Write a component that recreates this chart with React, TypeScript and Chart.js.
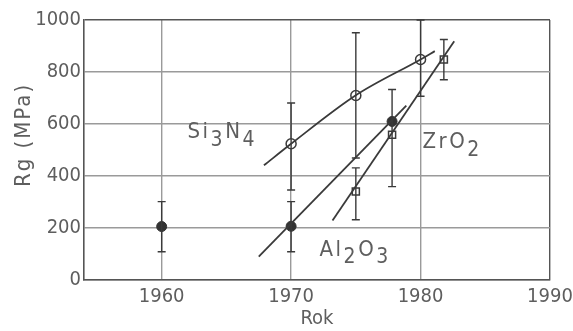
import React, { useEffect, useRef } from "react";
import { Chart, registerables } from "chart.js";

Chart.register(...registerables);

// ---- data ----
const xTicks = [1960, 1970, 1980, 1990];
const yTicks = [0, 200, 400, 600, 800, 1000];

const si3n4CurveYears = [1967.9, 1970, 1975, 1980, 1981.1];
const si3n4CurveValues = [440, 523, 710, 848, 880];
const al2o3LineYears = [1967.5, 1978.9];
const al2o3LineValues = [88, 670];
const zro2LineYears = [1973.2, 1982.6];
const zro2LineValues = [227, 918];

const filledYears = [1960, 1970, 1977.8];
const filledValues = [204, 205, 609];
const openCircleYears = [1970, 1975, 1980];
const openCircleValues = [523, 709, 848];
const squareYears = [1975, 1977.8, 1981.8];
const squareValues = [339, 558, 848];

const errYears = [1960, 1970, 1970, 1975, 1975, 1977.8, 1980, 1981.8];
const errLow = [107, 107, 345, 468, 230, 358, 706, 770];
const errHigh = [300, 300, 680, 951, 430, 732, 1000, 925];

const labelTexts = ["Si_3N_4", "ZrO_2", "Al_2O_3"];
const labelYears = [1962.0, 1980.15, 1972.2];
const labelValues = [566, 527, 114];

const xTitle = "Rok";
const yTitle = "Rg (MPa)";

const FONT = '"DejaVu Sans Condensed", "DejaVu Sans", sans-serif';
const TEXT = "#5e5e5e";
const INK = "#3a3a3a";

const pts = (xs: number[], ys: number[]) => xs.map((x, i) => ({ x, y: ys[i] }));

const overlayPlugin = {
  id: "overlay",
  afterDatasetsDraw(chart: any) {
    const { ctx, scales } = chart;
    const xs = scales.x;
    const ys = scales.y;
    ctx.save();
    // error bars
    ctx.strokeStyle = INK;
    ctx.lineWidth = 1.4;
    for (let i = 0; i < errYears.length; i++) {
      const px = xs.getPixelForValue(errYears[i]);
      const p1 = ys.getPixelForValue(errLow[i]);
      const p2 = ys.getPixelForValue(errHigh[i]);
      ctx.beginPath();
      ctx.moveTo(px, p1);
      ctx.lineTo(px, p2);
      ctx.moveTo(px - 4, p1);
      ctx.lineTo(px + 4, p1);
      ctx.moveTo(px - 4, p2);
      ctx.lineTo(px + 4, p2);
      ctx.stroke();
    }
    // labels
    ctx.fillStyle = TEXT;
    ctx.textBaseline = "middle";
    ctx.textAlign = "left";
    for (let i = 0; i < labelTexts.length; i++) {
      let px = xs.getPixelForValue(labelYears[i]);
      const py = ys.getPixelForValue(labelValues[i]);
      const t = labelTexts[i];
      for (let j = 0; j < t.length; j++) {
        let ch = t[j];
        let sub = false;
        if (ch === "_") {
          j++;
          ch = t[j];
          sub = true;
        }
        ctx.font = `${sub ? 21 : 22}px ${FONT}`;
        ctx.fillText(ch, px, py + (sub ? 8 : 0));
        px += ctx.measureText(ch).width + 2.5;
      }
    }
    // y title
    ctx.font = `22px ${FONT}`;
    ctx.textAlign = "center";
    (ctx as any).letterSpacing = "2px";
    ctx.save();
    ctx.translate(24, 135);
    ctx.rotate(-Math.PI / 2);
    ctx.fillText(yTitle, 0, 0);
    ctx.restore();
    ctx.restore();
  },
};

export default function App() {
  const ref = useRef<HTMLCanvasElement | null>(null);
  useEffect(() => {
    if (!ref.current) return;
    const lineDs = (xs: number[], ys: number[], tension = 0) => ({
      type: "line" as const,
      data: pts(xs, ys),
      borderColor: INK,
      borderWidth: 1.8,
      pointRadius: 0,
      tension,
      cubicInterpolationMode: tension ? ("monotone" as const) : ("default" as const),
      fill: false,
    });
    const chart = new Chart(ref.current, {
      type: "scatter",
      data: {
        datasets: [
          lineDs(si3n4CurveYears, si3n4CurveValues, 0.4) as any,
          lineDs(al2o3LineYears, al2o3LineValues) as any,
          lineDs(zro2LineYears, zro2LineValues) as any,
          {
            data: pts(filledYears, filledValues),
            pointStyle: "circle",
            pointRadius: 5,
            backgroundColor: "#333",
            borderColor: "#333",
            borderWidth: 1,
          },
          {
            data: pts(openCircleYears, openCircleValues),
            pointStyle: "circle",
            pointRadius: 5,
            backgroundColor: "#fff",
            borderColor: INK,
            borderWidth: 1.5,
          },
          {
            data: pts(squareYears, squareValues),
            pointStyle: "rect",
            pointRadius: 5,
            backgroundColor: "#fff",
            borderColor: INK,
            borderWidth: 1.5,
          },
        ],
      },
      options: {
        animation: false,
        responsive: true,
        maintainAspectRatio: false,
        layout: { padding: { left: 0, top: 20, right: 23, bottom: 0 } },
        plugins: { legend: { display: false }, tooltip: { enabled: false } },
        scales: {
          x: {
            type: "linear",
            min: 1954,
            max: 1990,
            afterBuildTicks: (s: any) => {
              s.ticks = xTicks.map((v) => ({ value: v }));
            },
            afterFit: (s: any) => {
              s.height = 51.5;
              s.paddingRight = 0;
              s.paddingLeft = 0;
            },
            grid: {
              drawTicks: false,
              color: (c: any) => (c.tick && c.tick.value === 1990 ? "#555" : "#9a9a9a"),
              lineWidth: 1.4,
            },
            border: { color: "#555", width: 1.6 },
            ticks: {
              padding: 5,
              color: TEXT,
              font: { family: FONT, size: 20 },
              maxRotation: 0,
              callback: (v: any) => String(v),
            },
            title: {
              display: true,
              text: xTitle,
              color: TEXT,
              font: { family: FONT, size: 20 },
              padding: { top: 2, bottom: 0 },
            },
          },
          y: {
            type: "linear",
            min: 0,
            max: 1000,
            afterBuildTicks: (s: any) => {
              s.ticks = yTicks.map((v) => ({ value: v }));
            },
            afterFit: (s: any) => {
              s.width = 84;
              s.paddingTop = 0;
              s.paddingBottom = 0;
            },
            grid: {
              drawTicks: false,
              color: (c: any) => (c.tick && c.tick.value === 1000 ? "#555" : "#9a9a9a"),
              lineWidth: 1.4,
            },
            border: { color: "#555", width: 1.6 },
            ticks: {
              padding: 3,
              color: TEXT,
              font: { family: FONT, size: 20 },
              callback: (v: any) => String(v),
            },
          },
        },
      },
      plugins: [overlayPlugin],
    });
    return () => chart.destroy();
  }, []);
  return (
    <div style={{ position: "fixed", left: 0, top: 0, width: 573, height: 331, background: "#fff" }}>
      <canvas ref={ref} />
    </div>
  );
}
